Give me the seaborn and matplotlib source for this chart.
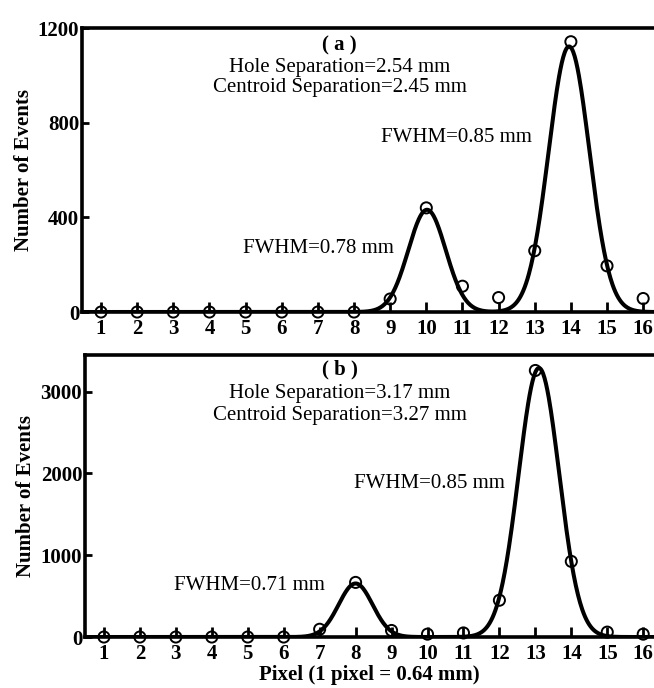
import numpy as np
import pandas as pd
import matplotlib
matplotlib.use("Agg")
import matplotlib.pyplot as plt
import seaborn as sns

# pixel index along the detector
pixels = list(range(1, 17))

# measured counts per pixel, panel (a) and (b)
counts_a = [0, 0, 0, 0, 0, 0, 0, 0, 55, 440, 109, 61, 259, 1142, 195, 57]
counts_b = [0, 0, 0, 0, 0, 0, 95, 668, 80, 35, 50, 450, 3260, 925, 60, 35]

# gaussian fits: centre (pixel), height, FWHM (mm)
fit_centers_a = [10.02, 13.95]
fit_heights_a = [432, 1122]
fit_fwhm_a = [0.78, 0.85]

fit_centers_b = [8.0, 13.1]
fit_heights_b = [655, 3290]
fit_fwhm_b = [0.71, 0.85]

pixel_mm = 0.64

panel_titles = ["( a )", "( b )"]
hole_sep = ["Hole Separation=2.54 mm", "Hole Separation=3.17 mm"]
centroid_sep = ["Centroid Separation=2.45 mm", "Centroid Separation=3.27 mm"]
yticks_a = [0, 400, 800, 1200]
yticks_b = [0, 1000, 2000, 3000]


def fit_curve(x, centers, heights, fwhms):
    y = np.zeros_like(x)
    for c, h, f in zip(centers, heights, fwhms):
        sigma = f / pixel_mm / 2.3548
        y += h * np.exp(-(x - c) ** 2 / (2 * sigma ** 2))
    return y


sns.set_style("ticks")
plt.rcParams['font.family'] = ['Liberation Serif', 'DejaVu Serif']
for key in ['text.color', 'axes.labelcolor', 'xtick.color', 'ytick.color', 'axes.edgecolor']:
    plt.rcParams[key] = 'black'

fig = plt.figure(figsize=(6.54, 6.88), dpi=100)
ax_a = fig.add_axes([0.1254, 0.5465, 0.8746, 0.4128])
ax_b = fig.add_axes([0.130, 0.0741, 0.870, 0.410])

xfine = np.linspace(0.5, 16.3, 800)

panels = [
    (ax_a, counts_a, fit_centers_a, fit_heights_a, fit_fwhm_a, yticks_a, 1200),
    (ax_b, counts_b, fit_centers_b, fit_heights_b, fit_fwhm_b, yticks_b, 3450),
]

for i, (ax, counts, cen, hgt, fw, yt, ymax) in enumerate(panels):
    curve = pd.DataFrame({"pixel": xfine, "fit": fit_curve(xfine, cen, hgt, fw)})
    pts = pd.DataFrame({"pixel": pixels, "count": counts})

    sns.lineplot(data=curve, x="pixel", y="fit", ax=ax, color="black", linewidth=2.9)
    sns.scatterplot(data=pts, x="pixel", y="count", ax=ax, s=64, marker="o",
                    facecolor="none", edgecolor="black", linewidth=1.4,
                    clip_on=False, zorder=5)

    ax.set_xlim(0.474, 16.3)
    ax.set_ylim(0, ymax)
    ax.set_xticks(pixels)
    ax.set_xticklabels([str(p) for p in pixels], fontweight="bold", fontsize=15)
    ax.set_yticks(yt)
    ax.set_yticklabels([str(v) for v in yt], fontweight="bold", fontsize=15)
    ax.tick_params(axis="x", direction="in", length=7, width=2, pad=5)
    ax.tick_params(axis="y", direction="in", length=5, width=2, pad=2)
    ax.set_ylabel("Number of Events", fontweight="bold", fontsize=15, labelpad=3)
    ax.set_xlabel("")

    for side in ["left", "top", "bottom"]:
        ax.spines[side].set_linewidth(2.6)
    ax.spines["right"].set_visible(False)

# panel (a) text
ax_a.text(7.6, 1128, panel_titles[0], ha="center", va="center", fontsize=15, fontweight="bold")
ax_a.text(7.6, 1035, hole_sep[0], ha="center", va="center", fontsize=15)
ax_a.text(7.6, 950, centroid_sep[0], ha="center", va="center", fontsize=15)
ax_a.text(8.75, 739, "FWHM=0.85 mm", ha="left", va="center", fontsize=15)
ax_a.text(4.93, 270, "FWHM=0.78 mm", ha="left", va="center", fontsize=15)

# panel (b) text
ax_b.text(7.56, 3266, panel_titles[1], ha="center", va="center", fontsize=15, fontweight="bold")
ax_b.text(7.56, 2984, hole_sep[1], ha="center", va="center", fontsize=15)
ax_b.text(7.56, 2715, centroid_sep[1], ha="center", va="center", fontsize=15)
ax_b.text(7.95, 1883, "FWHM=0.85 mm", ha="left", va="center", fontsize=15)
ax_b.text(2.94, 636, "FWHM=0.71 mm", ha="left", va="center", fontsize=15)

ax_b.set_xlabel("Pixel (1 pixel = 0.64 mm)", fontweight="bold", fontsize=15, labelpad=1)

fig.savefig("out.png", dpi=100)
